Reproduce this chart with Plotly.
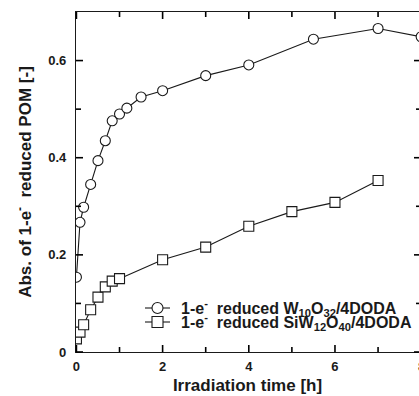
import plotly.graph_objects as go

# Series 1: 1-e- reduced W10O32/4DODA (circles)
t_w10 = [0, 0.083, 0.167, 0.33, 0.5, 0.67, 0.83, 1.0, 1.17, 1.5, 2, 3, 4, 5.5, 7, 8]
abs_w10 = [0.154, 0.267, 0.298, 0.345, 0.394, 0.435, 0.476, 0.490, 0.502, 0.525,
           0.538, 0.569, 0.591, 0.644, 0.666, 0.649]

# Series 2: 1-e- reduced SiW12O40/4DODA (squares)
t_siw = [0, 0.083, 0.167, 0.33, 0.5, 0.67, 0.83, 1.0, 2, 3, 4, 5, 6, 7]
abs_siw = [0.027, 0.041, 0.056, 0.087, 0.113, 0.134, 0.146, 0.151, 0.190, 0.216,
           0.259, 0.289, 0.308, 0.353]

legend_labels = ["1-e<sup>-</sup>  reduced W<sub>10</sub>O<sub>32</sub>/4DODA",
                 "1-e<sup>-</sup>  reduced SiW<sub>12</sub>O<sub>40</sub>/4DODA"]
symbols = ["circle", "square"]

x_major = [0, 2, 4, 6, 8]
x_minor = [1, 3, 5, 7]
y_major = [0, 0.2, 0.4, 0.6]
y_minor = [0.1, 0.3, 0.5]
y_ticktext = ["0", "0.2", "0.4", "0.6"]

x_title = "Irradiation time [h]"
y_title = "Abs. of 1-e<sup>-</sup>  reduced POM [-]"

FONT = "Liberation Sans, Arial, sans-serif"
INK = "#1a1a1a"

fig = go.Figure()
for xs, ys, sym, name in zip([t_w10, t_siw], [abs_w10, abs_siw], symbols, legend_labels):
    fig.add_trace(go.Scatter(
        x=xs, y=ys, mode="lines+markers", name=name, showlegend=False,
        line=dict(color=INK, width=1.1),
        marker=dict(symbol=sym, size=10, color="white",
                    line=dict(color=INK, width=1.1)),
        cliponaxis=True,
    ))

L, R, T, B = 76, 0, 12, 44
W, H = 419, 396
pw, ph = W - L - R, H - T - B


def px2x(px):
    return (px - L) / pw


def py2y(py):
    return (H - B - py) / ph


X_END = 7.95
shapes = []
annotations = []

# axis ticks (inside) on all four sides
tick_style = dict(color="black", width=1.6)
for vals, ln in ((x_major, 7), (x_minor, 5)):
    for v in vals:
        if v > X_END:
            continue
        xp = px2x(L + (v + 0.01) / (X_END + 0.01) * pw)
        shapes.append(dict(type="line", xref="paper", yref="paper", x0=xp, x1=xp,
                           y0=0, y1=ln / ph, line=tick_style, layer="above"))
        shapes.append(dict(type="line", xref="paper", yref="paper", x0=xp, x1=xp,
                           y0=1, y1=1 - ln / ph, line=tick_style, layer="above"))
for vals, ln in ((y_major, 7), (y_minor, 5)):
    for v in vals:
        yp = v / 0.7
        shapes.append(dict(type="line", xref="paper", yref="paper", y0=yp, y1=yp,
                           x0=0, x1=ln / pw, line=tick_style, layer="above"))
        shapes.append(dict(type="line", xref="paper", yref="paper", y0=yp, y1=yp,
                           x0=px2x(421), x1=px2x(421 - ln), line=tick_style,
                           layer="above"))

# Custom compact legend
for i, (sym, name) in enumerate(zip(symbols, legend_labels)):
    yc = py2y(308 + 14 * i)
    shapes.append(dict(type="line", xref="paper", yref="paper",
                       x0=px2x(145), x1=px2x(170), y0=yc, y1=yc,
                       line=dict(color=INK, width=1.1)))
    shapes.append(dict(type="circle" if sym == "circle" else "rect",
                       xref="paper", yref="paper",
                       xsizemode="pixel", ysizemode="pixel",
                       xanchor=px2x(157.5), yanchor=yc,
                       x0=-5.5, x1=5.5, y0=-5.5, y1=5.5,
                       fillcolor="white", line=dict(color=INK, width=1.1)))
    annotations.append(dict(xref="paper", yref="paper", x=px2x(179), y=yc,
                            text=name, showarrow=False, xanchor="left",
                            yanchor="middle",
                            font=dict(family=FONT, size=16, color=INK, weight="bold")))

# the "8" tick label sits just past the cropped right edge
annotations.append(dict(xref="paper", yref="paper", x=px2x(421.5), y=0, yshift=-14,
                        text=str(x_major[-1]), showarrow=False,
                        xanchor="center", yanchor="middle",
                        font=dict(family=FONT, size=13, color=INK, weight="bold")))

fig.update_layout(
    width=W, height=H,
    margin=dict(l=L, r=R, t=T, b=B, pad=0),
    paper_bgcolor="white", plot_bgcolor="white",
    font=dict(family=FONT, color=INK, weight="bold"),
    shapes=shapes, annotations=annotations,
    showlegend=False,
)

fig.update_xaxes(
    range=[-0.01, X_END], tickmode="array", tickvals=x_major[:-1],
    ticks="", showline=True, linecolor=INK, linewidth=1.2, mirror=True,
    showgrid=False, zeroline=False,
    tickfont=dict(family=FONT, size=13, color=INK, weight="bold"),
    ticklabelstandoff=2,
    title=dict(text=x_title, standoff=6,
               font=dict(family=FONT, size=17, color=INK, weight="bold")),
)
fig.update_yaxes(
    range=[0, 0.7], tickmode="array", tickvals=y_major, ticktext=y_ticktext,
    ticks="", showline=True, linecolor=INK, linewidth=1.2, mirror=False,
    showgrid=False, zeroline=False,
    tickfont=dict(family=FONT, size=13, color=INK, weight="bold"),
    ticklabelstandoff=6,
    title=dict(text=y_title, standoff=12,
               font=dict(family=FONT, size=17, color=INK, weight="bold")),
)

fig.write_html("out.html")
